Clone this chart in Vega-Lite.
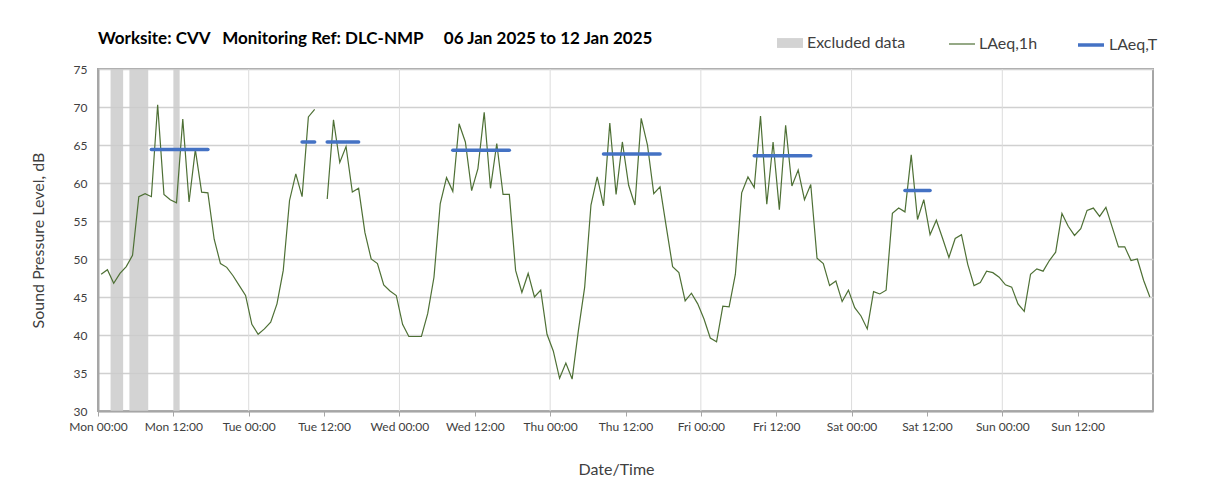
{
  "$schema": "https://vega.github.io/schema/vega-lite/v6.json",
  "autosize": "none",
  "width": 1055,
  "height": 342,
  "padding": {"left": 98, "top": 69, "right": 52, "bottom": 91},
  "background": "white",
  "config": {
    "view": {"stroke": "#a6a6a6", "strokeWidth": 2},
    "font": "Lato",
    "axisY": {
      "values": [30, 35, 40, 45, 50, 55, 60, 65, 70, 75],
      "tickCount": 10,
      "labelFont": "Lato", "labelFontSize": 12, "labelColor": "#404040", "labelPadding": 11,
      "labelOverlap": false, "labelFlush": false,
      "ticks": false, "domainColor": "#a6a6a6", "domainWidth": 2,
      "grid": true, "gridColor": "#d0d0d0", "gridWidth": 1.5
    }
  },
  "title": {
    "text": "Worksite: CVV\u00a0\u00a0\u00a0Monitoring Ref: DLC-NMP\u00a0\u00a0\u00a0\u00a0\u00a006 Jan 2025 to 12 Jan 2025",
    "anchor": "start", "frame": "group", "font": "Lato", "fontSize": 17, "fontWeight": "bold",
    "color": "#000000", "offset": -31, "baseline": "alphabetic"
  },
  "datasets": {
    "days": [
      {"d": "2025-01-07T00:00"}, {"d": "2025-01-08T00:00"}, {"d": "2025-01-09T00:00"},
      {"d": "2025-01-10T00:00"}, {"d": "2025-01-11T00:00"}, {"d": "2025-01-12T00:00"}
    ],
    "excluded": [
      {"start": "2025-01-06T02:00", "end": "2025-01-06T04:00"},
      {"start": "2025-01-06T05:00", "end": "2025-01-06T08:00"},
      {"start": "2025-01-06T12:00", "end": "2025-01-06T13:00"}
    ],
    "laeqT": [
      {"start": "2025-01-06T08:30", "end": "2025-01-06T17:30", "v": 64.4},
      {"start": "2025-01-07T08:30", "end": "2025-01-07T10:30", "v": 65.4},
      {"start": "2025-01-07T12:30", "end": "2025-01-07T17:30", "v": 65.4},
      {"start": "2025-01-08T08:30", "end": "2025-01-08T17:30", "v": 64.3},
      {"start": "2025-01-09T08:30", "end": "2025-01-09T17:30", "v": 63.8},
      {"start": "2025-01-10T08:30", "end": "2025-01-10T17:30", "v": 63.6},
      {"start": "2025-01-11T08:30", "end": "2025-01-11T12:30", "v": 59.0}
    ],
    "hourly": [
      {"t": "2025-01-06T00:30", "v": 48.0, "seg": 1},
      {"t": "2025-01-06T01:30", "v": 48.6, "seg": 1},
      {"t": "2025-01-06T02:30", "v": 46.8, "seg": 1},
      {"t": "2025-01-06T03:30", "v": 48.1, "seg": 1},
      {"t": "2025-01-06T04:30", "v": 49.0, "seg": 1},
      {"t": "2025-01-06T05:30", "v": 50.5, "seg": 1},
      {"t": "2025-01-06T06:30", "v": 58.2, "seg": 1},
      {"t": "2025-01-06T07:30", "v": 58.6, "seg": 1},
      {"t": "2025-01-06T08:30", "v": 58.2, "seg": 1},
      {"t": "2025-01-06T09:30", "v": 70.3, "seg": 1},
      {"t": "2025-01-06T10:30", "v": 58.5, "seg": 1},
      {"t": "2025-01-06T11:30", "v": 57.8, "seg": 1},
      {"t": "2025-01-06T12:30", "v": 57.4, "seg": 1},
      {"t": "2025-01-06T13:30", "v": 68.4, "seg": 1},
      {"t": "2025-01-06T14:30", "v": 57.5, "seg": 1},
      {"t": "2025-01-06T15:30", "v": 64.4, "seg": 1},
      {"t": "2025-01-06T16:30", "v": 58.8, "seg": 1},
      {"t": "2025-01-06T17:30", "v": 58.7, "seg": 1},
      {"t": "2025-01-06T18:30", "v": 52.6, "seg": 1},
      {"t": "2025-01-06T19:30", "v": 49.4, "seg": 1},
      {"t": "2025-01-06T20:30", "v": 48.9, "seg": 1},
      {"t": "2025-01-06T21:30", "v": 47.8, "seg": 1},
      {"t": "2025-01-06T22:30", "v": 46.5, "seg": 1},
      {"t": "2025-01-06T23:30", "v": 45.2, "seg": 1},
      {"t": "2025-01-07T00:30", "v": 41.4, "seg": 1},
      {"t": "2025-01-07T01:30", "v": 40.1, "seg": 1},
      {"t": "2025-01-07T02:30", "v": 40.8, "seg": 1},
      {"t": "2025-01-07T03:30", "v": 41.7, "seg": 1},
      {"t": "2025-01-07T04:30", "v": 44.1, "seg": 1},
      {"t": "2025-01-07T05:30", "v": 48.5, "seg": 1},
      {"t": "2025-01-07T06:30", "v": 57.7, "seg": 1},
      {"t": "2025-01-07T07:30", "v": 61.2, "seg": 1},
      {"t": "2025-01-07T08:30", "v": 58.2, "seg": 1},
      {"t": "2025-01-07T09:30", "v": 68.7, "seg": 1},
      {"t": "2025-01-07T10:30", "v": 69.7, "seg": 1},
      {"t": "2025-01-07T12:30", "v": 57.9, "seg": 2},
      {"t": "2025-01-07T13:30", "v": 68.3, "seg": 2},
      {"t": "2025-01-07T14:30", "v": 62.7, "seg": 2},
      {"t": "2025-01-07T15:30", "v": 64.8, "seg": 2},
      {"t": "2025-01-07T16:30", "v": 58.8, "seg": 2},
      {"t": "2025-01-07T17:30", "v": 59.3, "seg": 2},
      {"t": "2025-01-07T18:30", "v": 53.5, "seg": 2},
      {"t": "2025-01-07T19:30", "v": 50.0, "seg": 2},
      {"t": "2025-01-07T20:30", "v": 49.4, "seg": 2},
      {"t": "2025-01-07T21:30", "v": 46.6, "seg": 2},
      {"t": "2025-01-07T22:30", "v": 45.8, "seg": 2},
      {"t": "2025-01-07T23:30", "v": 45.2, "seg": 2},
      {"t": "2025-01-08T00:30", "v": 41.4, "seg": 2},
      {"t": "2025-01-08T01:30", "v": 39.8, "seg": 2},
      {"t": "2025-01-08T02:30", "v": 39.8, "seg": 2},
      {"t": "2025-01-08T03:30", "v": 39.8, "seg": 2},
      {"t": "2025-01-08T04:30", "v": 42.8, "seg": 2},
      {"t": "2025-01-08T05:30", "v": 47.6, "seg": 2},
      {"t": "2025-01-08T06:30", "v": 57.3, "seg": 2},
      {"t": "2025-01-08T07:30", "v": 60.7, "seg": 2},
      {"t": "2025-01-08T08:30", "v": 58.9, "seg": 2},
      {"t": "2025-01-08T09:30", "v": 67.8, "seg": 2},
      {"t": "2025-01-08T10:30", "v": 65.4, "seg": 2},
      {"t": "2025-01-08T11:30", "v": 59.0, "seg": 2},
      {"t": "2025-01-08T12:30", "v": 61.9, "seg": 2},
      {"t": "2025-01-08T13:30", "v": 69.3, "seg": 2},
      {"t": "2025-01-08T14:30", "v": 59.3, "seg": 2},
      {"t": "2025-01-08T15:30", "v": 65.2, "seg": 2},
      {"t": "2025-01-08T16:30", "v": 58.5, "seg": 2},
      {"t": "2025-01-08T17:30", "v": 58.5, "seg": 2},
      {"t": "2025-01-08T18:30", "v": 48.5, "seg": 2},
      {"t": "2025-01-08T19:30", "v": 45.6, "seg": 2},
      {"t": "2025-01-08T20:30", "v": 48.1, "seg": 2},
      {"t": "2025-01-08T21:30", "v": 45.0, "seg": 2},
      {"t": "2025-01-08T22:30", "v": 45.9, "seg": 2},
      {"t": "2025-01-08T23:30", "v": 40.1, "seg": 2},
      {"t": "2025-01-09T00:30", "v": 37.9, "seg": 2},
      {"t": "2025-01-09T01:30", "v": 34.3, "seg": 2},
      {"t": "2025-01-09T02:30", "v": 36.3, "seg": 2},
      {"t": "2025-01-09T03:30", "v": 34.2, "seg": 2},
      {"t": "2025-01-09T04:30", "v": 40.6, "seg": 2},
      {"t": "2025-01-09T05:30", "v": 46.3, "seg": 2},
      {"t": "2025-01-09T06:30", "v": 57.1, "seg": 2},
      {"t": "2025-01-09T07:30", "v": 60.8, "seg": 2},
      {"t": "2025-01-09T08:30", "v": 57.0, "seg": 2},
      {"t": "2025-01-09T09:30", "v": 67.9, "seg": 2},
      {"t": "2025-01-09T10:30", "v": 58.5, "seg": 2},
      {"t": "2025-01-09T11:30", "v": 65.4, "seg": 2},
      {"t": "2025-01-09T12:30", "v": 59.7, "seg": 2},
      {"t": "2025-01-09T13:30", "v": 57.1, "seg": 2},
      {"t": "2025-01-09T14:30", "v": 68.5, "seg": 2},
      {"t": "2025-01-09T15:30", "v": 65.0, "seg": 2},
      {"t": "2025-01-09T16:30", "v": 58.6, "seg": 2},
      {"t": "2025-01-09T17:30", "v": 59.5, "seg": 2},
      {"t": "2025-01-09T18:30", "v": 54.2, "seg": 2},
      {"t": "2025-01-09T19:30", "v": 49.0, "seg": 2},
      {"t": "2025-01-09T20:30", "v": 48.2, "seg": 2},
      {"t": "2025-01-09T21:30", "v": 44.5, "seg": 2},
      {"t": "2025-01-09T22:30", "v": 45.5, "seg": 2},
      {"t": "2025-01-09T23:30", "v": 44.1, "seg": 2},
      {"t": "2025-01-10T00:30", "v": 42.1, "seg": 2},
      {"t": "2025-01-10T01:30", "v": 39.6, "seg": 2},
      {"t": "2025-01-10T02:30", "v": 39.1, "seg": 2},
      {"t": "2025-01-10T03:30", "v": 43.8, "seg": 2},
      {"t": "2025-01-10T04:30", "v": 43.7, "seg": 2},
      {"t": "2025-01-10T05:30", "v": 48.0, "seg": 2},
      {"t": "2025-01-10T06:30", "v": 58.7, "seg": 2},
      {"t": "2025-01-10T07:30", "v": 60.8, "seg": 2},
      {"t": "2025-01-10T08:30", "v": 59.4, "seg": 2},
      {"t": "2025-01-10T09:30", "v": 68.8, "seg": 2},
      {"t": "2025-01-10T10:30", "v": 57.2, "seg": 2},
      {"t": "2025-01-10T11:30", "v": 65.4, "seg": 2},
      {"t": "2025-01-10T12:30", "v": 56.5, "seg": 2},
      {"t": "2025-01-10T13:30", "v": 67.6, "seg": 2},
      {"t": "2025-01-10T14:30", "v": 59.6, "seg": 2},
      {"t": "2025-01-10T15:30", "v": 61.7, "seg": 2},
      {"t": "2025-01-10T16:30", "v": 57.8, "seg": 2},
      {"t": "2025-01-10T17:30", "v": 59.8, "seg": 2},
      {"t": "2025-01-10T18:30", "v": 50.1, "seg": 2},
      {"t": "2025-01-10T19:30", "v": 49.4, "seg": 2},
      {"t": "2025-01-10T20:30", "v": 46.5, "seg": 2},
      {"t": "2025-01-10T21:30", "v": 47.1, "seg": 2},
      {"t": "2025-01-10T22:30", "v": 44.4, "seg": 2},
      {"t": "2025-01-10T23:30", "v": 45.9, "seg": 2},
      {"t": "2025-01-11T00:30", "v": 43.6, "seg": 2},
      {"t": "2025-01-11T01:30", "v": 42.5, "seg": 2},
      {"t": "2025-01-11T02:30", "v": 40.8, "seg": 2},
      {"t": "2025-01-11T03:30", "v": 45.7, "seg": 2},
      {"t": "2025-01-11T04:30", "v": 45.4, "seg": 2},
      {"t": "2025-01-11T05:30", "v": 45.9, "seg": 2},
      {"t": "2025-01-11T06:30", "v": 56.0, "seg": 2},
      {"t": "2025-01-11T07:30", "v": 56.7, "seg": 2},
      {"t": "2025-01-11T08:30", "v": 56.2, "seg": 2},
      {"t": "2025-01-11T09:30", "v": 63.7, "seg": 2},
      {"t": "2025-01-11T10:30", "v": 55.2, "seg": 2},
      {"t": "2025-01-11T11:30", "v": 57.8, "seg": 2},
      {"t": "2025-01-11T12:30", "v": 53.2, "seg": 2},
      {"t": "2025-01-11T13:30", "v": 55.1, "seg": 2},
      {"t": "2025-01-11T14:30", "v": 52.7, "seg": 2},
      {"t": "2025-01-11T15:30", "v": 50.2, "seg": 2},
      {"t": "2025-01-11T16:30", "v": 52.7, "seg": 2},
      {"t": "2025-01-11T17:30", "v": 53.2, "seg": 2},
      {"t": "2025-01-11T18:30", "v": 49.3, "seg": 2},
      {"t": "2025-01-11T19:30", "v": 46.5, "seg": 2},
      {"t": "2025-01-11T20:30", "v": 46.9, "seg": 2},
      {"t": "2025-01-11T21:30", "v": 48.4, "seg": 2},
      {"t": "2025-01-11T22:30", "v": 48.2, "seg": 2},
      {"t": "2025-01-11T23:30", "v": 47.6, "seg": 2},
      {"t": "2025-01-12T00:30", "v": 46.6, "seg": 2},
      {"t": "2025-01-12T01:30", "v": 46.3, "seg": 2},
      {"t": "2025-01-12T02:30", "v": 44.1, "seg": 2},
      {"t": "2025-01-12T03:30", "v": 43.1, "seg": 2},
      {"t": "2025-01-12T04:30", "v": 48.0, "seg": 2},
      {"t": "2025-01-12T05:30", "v": 48.7, "seg": 2},
      {"t": "2025-01-12T06:30", "v": 48.4, "seg": 2},
      {"t": "2025-01-12T07:30", "v": 49.8, "seg": 2},
      {"t": "2025-01-12T08:30", "v": 50.9, "seg": 2},
      {"t": "2025-01-12T09:30", "v": 56.0, "seg": 2},
      {"t": "2025-01-12T10:30", "v": 54.3, "seg": 2},
      {"t": "2025-01-12T11:30", "v": 53.1, "seg": 2},
      {"t": "2025-01-12T12:30", "v": 54.0, "seg": 2},
      {"t": "2025-01-12T13:30", "v": 56.4, "seg": 2},
      {"t": "2025-01-12T14:30", "v": 56.7, "seg": 2},
      {"t": "2025-01-12T15:30", "v": 55.6, "seg": 2},
      {"t": "2025-01-12T16:30", "v": 56.8, "seg": 2},
      {"t": "2025-01-12T17:30", "v": 54.2, "seg": 2},
      {"t": "2025-01-12T18:30", "v": 51.6, "seg": 2},
      {"t": "2025-01-12T19:30", "v": 51.6, "seg": 2},
      {"t": "2025-01-12T20:30", "v": 49.8, "seg": 2},
      {"t": "2025-01-12T21:30", "v": 50.0, "seg": 2},
      {"t": "2025-01-12T22:30", "v": 47.2, "seg": 2},
      {"t": "2025-01-12T23:30", "v": 45.0, "seg": 2}
    ]
  },
  "layer": [
    {
      "data": {"name": "days"},
      "mark": {"type": "rule", "stroke": "#dcdcdc", "strokeWidth": 1},
      "encoding": {
        "x": {
          "field": "d", "type": "temporal",
          "scale": {"domain": [{"year": 2025, "month": 1, "date": 6}, {"year": 2025, "month": 1, "date": 13}], "nice": false},
          "axis": {
            "values": [
              {"year": 2025, "month": 1, "date": 6, "hours": 0}, {"year": 2025, "month": 1, "date": 6, "hours": 12},
              {"year": 2025, "month": 1, "date": 7, "hours": 0}, {"year": 2025, "month": 1, "date": 7, "hours": 12},
              {"year": 2025, "month": 1, "date": 8, "hours": 0}, {"year": 2025, "month": 1, "date": 8, "hours": 12},
              {"year": 2025, "month": 1, "date": 9, "hours": 0}, {"year": 2025, "month": 1, "date": 9, "hours": 12},
              {"year": 2025, "month": 1, "date": 10, "hours": 0}, {"year": 2025, "month": 1, "date": 10, "hours": 12},
              {"year": 2025, "month": 1, "date": 11, "hours": 0}, {"year": 2025, "month": 1, "date": 11, "hours": 12},
              {"year": 2025, "month": 1, "date": 12, "hours": 0}, {"year": 2025, "month": 1, "date": 12, "hours": 12}
            ],
            "labelExpr": "timeFormat(datum.value, '%a %H:%M')",
            "title": "Date/Time", "titleFont": "Lato", "titleFontSize": 16, "titleFontWeight": "normal",
            "titleColor": "#404040", "titleX": 518, "titleY": 58, "titleBaseline": "middle",
            "labelFont": "Lato", "labelFontSize": 12, "labelColor": "#404040", "labelPadding": 5,
            "labelFlush": false, "labelOverlap": false,
            "tickSize": 5, "tickColor": "#a6a6a6", "tickWidth": 1,
            "domainColor": "#a6a6a6", "domainWidth": 2,
            "grid": false
          }
        }
      }
    },
    {
      "data": {"name": "excluded"},
      "mark": {"type": "rect", "opacity": 0.85},
      "encoding": {
        "x": {"field": "start", "type": "temporal"},
        "x2": {"field": "end"},
        "fill": {
          "datum": "Excluded data",
          "scale": {"domain": ["Excluded data"], "range": ["#cbcbcb"]},
          "legend": {
            "orient": "none", "legendX": 679, "legendY": -39, "title": null, "padding": 0,
            "symbolType": "M-1,-0.38H1V0.38H-1Z", "symbolSize": 676, "symbolStrokeWidth": 0, "symbolOpacity": 0.85,
            "labelFont": "Lato", "labelFontSize": 16, "labelColor": "#404040", "labelOffset": 4
          }
        }
      }
    },
    {
      "data": {"name": "hourly"},
      "mark": {"type": "line", "strokeWidth": 1.2},
      "encoding": {
        "x": {"field": "t", "type": "temporal"},
        "y": {
          "field": "v", "type": "quantitative",
          "scale": {"domain": [30, 75], "nice": false, "zero": false},
          "axis": {
            "values": [30, 35, 40, 45, 50, 55, 60, 65, 70, 75],
            "title": "Sound Pressure Level, dB", "titleFont": "Lato", "titleFontSize": 16, "titleFontWeight": "normal",
            "titleColor": "#404040", "titleX": -60, "titleY": 171, "titleAngle": -90, "titleAlign": "center", "titleBaseline": "middle"
          }
        },
        "detail": {"field": "seg", "type": "nominal"},
        "stroke": {
          "datum": "LAeq,1h",
          "scale": {"domain": ["LAeq,1h"], "range": ["#4e7035"]},
          "legend": {
            "orient": "none", "legendX": 850, "legendY": -39, "title": null, "padding": 0,
            "symbolType": "stroke", "symbolSize": 676, "symbolStrokeWidth": 1.2,
            "labelFont": "Lato", "labelFontSize": 16, "labelColor": "#404040", "labelOffset": 3
          }
        }
      }
    },
    {
      "data": {"name": "laeqT"},
      "mark": {"type": "rule", "strokeWidth": 3.5, "strokeCap": "round"},
      "encoding": {
        "x": {"field": "start", "type": "temporal"},
        "x2": {"field": "end"},
        "y": {
          "field": "v", "type": "quantitative",
          "axis": {
            "values": [30, 35, 40, 45, 50, 55, 60, 65, 70, 75],
            "title": "Sound Pressure Level, dB", "titleFont": "Lato", "titleFontSize": 16, "titleFontWeight": "normal",
            "titleColor": "#404040", "titleX": -60, "titleY": 171, "titleAngle": -90, "titleAlign": "center", "titleBaseline": "middle"
          }
        },
        "color": {
          "datum": "LAeq,T",
          "scale": {"domain": ["LAeq,T"], "range": ["#4472c4"]},
          "legend": {
            "orient": "none", "legendX": 978, "legendY": -39, "title": null, "padding": 0,
            "symbolType": "stroke", "symbolSize": 676, "symbolStrokeWidth": 3.5,
            "labelFont": "Lato", "labelFontSize": 16, "labelColor": "#404040", "labelOffset": 3
          }
        }
      }
    }
  ]
}
